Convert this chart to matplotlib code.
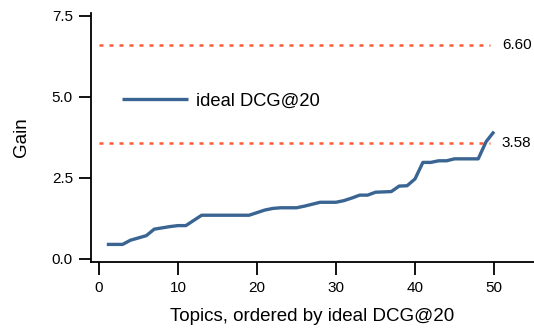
import matplotlib
matplotlib.use("Agg")
import matplotlib.pyplot as plt

plt.rcParams['font.family'] = ['Liberation Sans', 'DejaVu Sans']

# ideal DCG@20 per topic, sorted
topics = list(range(1, 51))
ideal_dcg = [0.45, 0.45, 0.45, 0.58, 0.65, 0.72, 0.92, 0.96, 1.00, 1.03,
             1.03, 1.19, 1.35, 1.35, 1.35, 1.35, 1.35, 1.35, 1.35, 1.43,
             1.51, 1.56, 1.58, 1.58, 1.58, 1.63, 1.69, 1.75, 1.75, 1.75,
             1.80, 1.88, 1.97, 1.97, 2.06, 2.07, 2.08, 2.25, 2.26, 2.47,
             2.98, 2.98, 3.03, 3.03, 3.09, 3.09, 3.09, 3.09, 3.62, 3.93]
ref_levels = [6.60, 3.58]
ref_labels = ["6.60", "3.58"]

blue = "#3a6592"
orange = "#ff5a36"

fig = plt.figure(figsize=(5.34, 3.31), dpi=100)
ax = fig.add_axes([91 / 534, 1 - 262 / 331, 443 / 534, 249 / 331])

ax.plot(topics, ideal_dcg, color=blue, lw=2.4, label="ideal DCG@20",
        solid_capstyle="butt", zorder=3)
for lvl, lab in zip(ref_levels, ref_labels):
    ax.hlines(lvl, 0, 49.5, colors=orange, linestyles=(0, (1.6, 2.4)), lw=1.8, zorder=2)
    ax.text(51.0, lvl, lab, va="center", ha="left", fontsize=11)

ax.set_xlim(-1.0, 55.06)
ax.set_ylim(-0.093, 7.59)
ax.set_xticks([0, 10, 20, 30, 40, 50])
ax.set_yticks([0, 2.5, 5.0, 7.5])
ax.set_yticklabels(["0.0", "2.5", "5.0", "7.5"])
ax.spines['top'].set_visible(False)
ax.spines['right'].set_visible(False)
ax.tick_params(axis='both', direction='out', length=9, width=1.3, labelsize=11, pad=4)
ax.tick_params(axis='x', pad=5)
for s in ['left', 'bottom']:
    ax.spines[s].set_linewidth(1.3)

ax.set_xlabel("Topics, ordered by ideal DCG@20", fontsize=13.5, labelpad=9)
ax.set_ylabel("Gain", fontsize=13.5, labelpad=16)

ax.legend(loc="center left", bbox_to_anchor=(0.07, 0.647), frameon=False,
          borderpad=0, borderaxespad=0, handlelength=3.6, handletextpad=0.45,
          fontsize=13.2)

fig.savefig("out.png", dpi=100)
